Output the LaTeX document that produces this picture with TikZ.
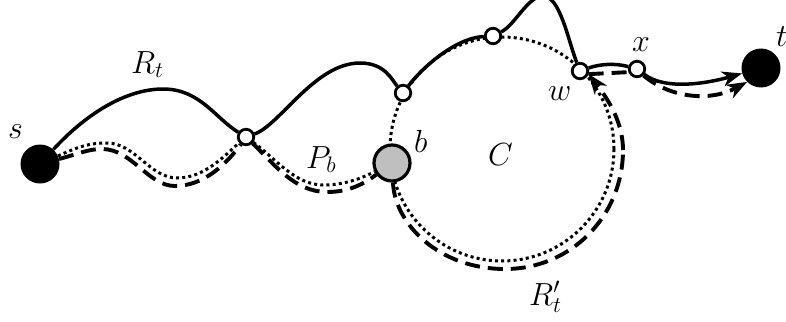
\RequirePackage{fix-cm}
\documentclass[tikz,border=0pt]{standalone}
\usetikzlibrary{arrows.meta}
\begin{document}
\begin{tikzpicture}[x=1pt,y=-1pt,
  lbl/.style={inner sep=0pt, anchor=base west, font=\fontsize{32}{38}\selectfont},
  bigv/.style={circle, fill=black, minimum size=39pt, inner sep=0pt},
  smallv/.style={circle, draw=black, fill=white, line width=2.8pt, minimum size=15.5pt, inner sep=0pt},
  bv/.style={circle, draw=black, fill=gray!50, line width=3.2pt, minimum size=36pt, inner sep=0pt},
  solidpath/.style={line width=3.5pt},
  dotpath/.style={line width=3pt, dash pattern=on 3pt off 3.2pt},
  dashpath/.style={line width=3.9pt, dash pattern=on 15pt off 8pt},
  tip/.style={-{Stealth[length=20pt,width=15pt,inset=6pt]}}
]
\useasboundingbox (0,0) rectangle (786,321);

% dotted cycle C
\draw[dotpath] (502,149) circle[radius=112pt];

% vertices
\node[bigv] (s) at (40,164) {};
\node[smallv] (a1) at (246,137) {};
\node[smallv] (a2) at (403,93) {};
\node[smallv] (a3) at (493,36) {};
\node[smallv] (w) at (580,71) {};
\node[smallv] (xv) at (637,69) {};
\node[bigv] (t) at (761,68) {};
\node[bv] (b) at (392,163) {};
\coordinate (bot) at (505,269);
\coordinate (rgt) at (623,150);

% solid path R_t
\draw[solidpath] (s) .. controls (85,115) and (125,89) .. (163,89) .. controls (200,89) and (215,118) .. (a1);
\draw[solidpath] (a1) .. controls (280,125) and (315,63) .. (360,63) .. controls (385,63) and (392,80) .. (a2);
\draw[solidpath] (a2) .. controls (422,68) and (455,38) .. (a3);
\draw[solidpath] (a3) .. controls (515,25) and (528,-4) .. (543,-4) .. controls (560,-4) and (568,40) .. (w);
\draw[solidpath] (w) .. controls (600,64) and (615,63) .. (xv);
\draw[solidpath,tip] (xv) .. controls (665,90) and (705,84) .. (t);

% dotted path P_b
\draw[dotpath] (s) .. controls (80,146) and (90,143) .. (107,143) .. controls (135,143) and (150,178) .. (177,178) .. controls (205,178) and (225,155) .. (a1);
\draw[dotpath] (a1) .. controls (275,158) and (295,185) .. (323,185) .. controls (345,185) and (362,178) .. (b);

% dashed path R'_t
\draw[dashpath] (s) .. controls (78,154) and (88,149) .. (102,149) .. controls (132,149) and (148,186) .. (175,186) .. controls (205,186) and (228,162) .. (a1);
\draw[dashpath] (a1) .. controls (275,165) and (295,192) .. (327,192) .. controls (350,192) and (365,183) .. (b);
\draw[dashpath] (b) .. controls (395,225) and (440,269) .. (bot) .. controls (571,269) and (623,216) .. (rgt);
\draw[dashpath,tip] (rgt) .. controls (623,118) and (603,93) .. (w.-20);
\draw[dashpath] (w.-20) -- (xv.200);
\draw[dashpath,tip] (xv.-45) .. controls (670,98) and (710,102) .. (t.225);

% labels
\node[lbl] (ls) at (8,138) {$s$};
\node[lbl] (lR) at (131,73) {$R_t$};
\node[lbl] (lP) at (306,168) {$P_b$};
\node[lbl] (lb) at (414,152) {$b$};
\node[lbl] (lC) at (488,165) {$C$};
\node[lbl] (lw) at (548,100) {$w$};
\node[lbl] (lx) at (632,52) {$x$};
\node[lbl] (lt) at (776,46) {$t$};
\node[lbl] (lR2) at (529,305) {$R'_t$};
\end{tikzpicture}
\end{document}
